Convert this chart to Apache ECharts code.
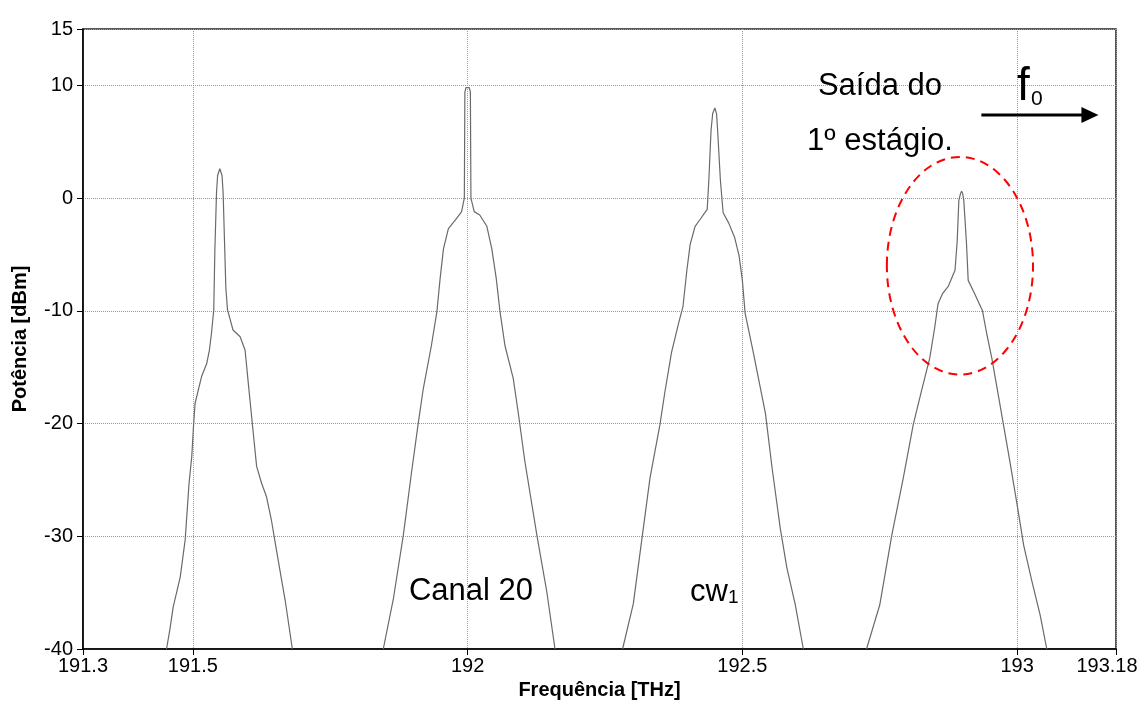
<!DOCTYPE html>
<html><head><meta charset="utf-8">
<script src="https://cdn.jsdelivr.net/npm/echarts@6.0.0/dist/echarts.min.js"></script>
<style>html,body{margin:0;padding:0;background:#fff}#c{width:1141px;height:704px}</style>
</head><body><div id="c"></div><script>
const xTicks = [191.3, 191.5, 192, 192.5, 193, 193.18];
const yTicks = [-40, -30, -20, -10, 0, 10, 15];
const xRange = [191.3, 193.18];
const yRange = [-40, 15];

// [frequency THz, power dBm]
const peak1 = [[191.452,-40],[191.458,-38.3],[191.464,-36.3],[191.477,-33.6],[191.486,-30.3],[191.493,-25.3],[191.498,-22.9],[191.501,-20.3],[191.504,-18.2],[191.510,-17.0],[191.516,-15.8],[191.525,-14.7],[191.530,-13.5],[191.534,-11.9],[191.538,-9.9],[191.540,-4.6],[191.543,0.5],[191.545,2.0],[191.549,2.6],[191.553,2.0],[191.555,0.5],[191.558,-4.6],[191.560,-8.0],[191.563,-9.9],[191.573,-11.7],[191.586,-12.3],[191.595,-13.5],[191.601,-16.5],[191.610,-20.9],[191.616,-23.8],[191.625,-25.3],[191.634,-26.5],[191.643,-28.6],[191.652,-31.2],[191.668,-35.7],[191.681,-40]];
const canal20 = [[191.8465,-40],[191.865,-35.5],[191.883,-29.9],[191.898,-24.3],[191.910,-20.0],[191.919,-17.0],[191.934,-13.1],[191.944,-10.1],[191.950,-7.1],[191.956,-4.5],[191.965,-2.7],[191.980,-1.8],[191.989,-1.2],[191.994,0.0],[191.995,9.4],[191.997,9.8],[192.000,9.9],[192.003,9.8],[192.005,9.4],[192.006,0.0],[192.012,-1.2],[192.022,-1.5],[192.035,-2.5],[192.044,-4.5],[192.052,-7.1],[192.059,-10.1],[192.068,-13.1],[192.083,-16.0],[192.092,-19.0],[192.104,-23.3],[192.126,-29.9],[192.144,-34.9],[192.159,-40]];
const cw1 = [[192.282,-40],[192.3015,-36.0],[192.317,-30.3],[192.332,-24.8],[192.350,-20.1],[192.359,-17.2],[192.371,-13.7],[192.384,-11.1],[192.392,-9.6],[192.399,-6.4],[192.405,-4.1],[192.414,-2.5],[192.423,-1.9],[192.436,-1.0],[192.439,1.6],[192.443,6.0],[192.446,7.5],[192.450,8.0],[192.453,7.5],[192.455,6.0],[192.460,1.6],[192.465,-1.3],[192.475,-2.2],[192.486,-3.5],[192.494,-5.1],[192.500,-7.3],[192.505,-10.2],[192.520,-13.7],[192.533,-16.9],[192.542,-19.1],[192.554,-23.9],[192.569,-29.3],[192.581,-32.8],[192.596,-36.0],[192.611,-40]];
const stage1Out = [[192.726,-40],[192.750,-36.1],[192.772,-29.9],[192.793,-24.8],[192.811,-20.1],[192.826,-17.1],[192.841,-14.2],[192.850,-11.5],[192.856,-9.4],[192.864,-8.5],[192.875,-7.8],[192.887,-6.4],[192.891,-3.8],[192.894,-0.2],[192.897,0.4],[192.899,0.6],[192.901,0.4],[192.903,-0.2],[192.908,-4.1],[192.911,-7.3],[192.923,-8.5],[192.937,-10.0],[192.945,-12.1],[192.954,-14.2],[192.972,-19.2],[192.987,-23.4],[193.000,-27.2],[193.012,-30.8],[193.027,-34.0],[193.042,-37.0],[193.054,-40]];

const FONT = 'Liberation Sans, Arial, sans-serif';
const lineColor = '#6a6a6a';

function mk(name, data) {
  return { name, type: 'line', data, showSymbol: false, symbol: 'none',
    lineStyle: { color: lineColor, width: 1.2 }, animation: false, z: 3 };
}

const chart = echarts.init(document.getElementById('c'), null, { renderer: 'canvas' });
chart.setOption({
  backgroundColor: '#fff',
  animation: false,
  grid: { left: 83, right: 25, top: 29, bottom: 55, show: true, borderColor: '#222', borderWidth: 1.5,
    backgroundColor: 'transparent', outerBoundsMode: 'none', containLabel: false },
  xAxis: {
    type: 'value', min: xRange[0], max: xRange[1],
    name: 'Frequência [THz]', nameLocation: 'middle', nameGap: 31,
    nameTextStyle: { fontFamily: FONT, fontSize: 20, fontWeight: 'bold', color: '#000' },
    axisLine: { show: true, onZero: false, lineStyle: { color: '#000', width: 1.5 } },
    axisTick: { show: true, length: 6, customValues: xTicks, lineStyle: { color: '#000' } },
    axisLabel: { customValues: xTicks, showMinLabel: true, showMaxLabel: true, margin: 7,
      fontFamily: FONT, fontSize: 20, color: '#000',
      formatter: v => (v === xRange[1] ? '{m|' + v + '}' : String(v)),
      rich: { m: { fontFamily: FONT, fontSize: 20, color: '#000', padding: [0, 18, 0, 0] } } },
    splitLine: { show: true, lineStyle: { color: '#999', type: [1, 1], width: 1 } }
  },
  yAxis: {
    type: 'value', min: yRange[0], max: yRange[1],
    name: 'Potência [dBm]', nameLocation: 'middle', nameGap: 53, nameRotate: 90,
    nameTextStyle: { fontFamily: FONT, fontSize: 20, fontWeight: 'bold', color: '#000' },
    axisLine: { show: true, onZero: false, lineStyle: { color: '#000', width: 1.5 } },
    axisTick: { show: true, length: 6, customValues: yTicks, lineStyle: { color: '#000' } },
    axisLabel: { customValues: yTicks, showMinLabel: true, showMaxLabel: true, margin: 10,
      fontFamily: FONT, fontSize: 20, color: '#000' },
    splitLine: { show: true, lineStyle: { color: '#999', type: [1, 1], width: 1 } }
  },
  series: [mk('peak1', peak1), mk('Canal 20', canal20), mk('cw1', cw1), mk('stage1', stage1Out)]
});

// annotations
const c = chart.convertToPixel({ gridIndex: 0 }, [192.896, -6.0]);
const ex = chart.convertToPixel({ gridIndex: 0 }, [192.896 + 0.133, -6.0 + 9.65]);
const a0 = chart.convertToPixel({ gridIndex: 0 }, [192.935, 7.37]);
const a1 = chart.convertToPixel({ gridIndex: 0 }, [193.148, 7.37]);
const txt = (t, x, y, size, align) => ({ type: 'text', x, y, z: 10,
  style: { text: t, fontFamily: FONT, fontSize: size, fill: '#000', align: align || 'center', verticalAlign: 'middle' } });
chart.setOption({
  graphic: [
    { type: 'ellipse', z: 10, shape: { cx: c[0], cy: c[1], rx: Math.abs(ex[0] - c[0]), ry: Math.abs(c[1] - ex[1]) },
      style: { fill: 'none', stroke: '#ff0000', lineWidth: 2, lineDash: [9, 6] } },
    { type: 'line', z: 10, shape: { x1: a0[0], y1: a0[1], x2: a1[0] - 12, y2: a1[1] },
      style: { stroke: '#000', lineWidth: 3 } },
    { type: 'polygon', z: 10, shape: { points: [[a1[0], a1[1]], [a1[0] - 17, a1[1] - 8], [a1[0] - 17, a1[1] + 8]] },
      style: { fill: '#000' } },
    txt('Saída do', 880, 86, 31),
    txt('1º estágio.', 880, 141, 31),
    txt('f', 1017, 87, 46, 'left'),
    txt('0', 1031, 99, 21, 'left'),
    txt('Canal 20', 471, 591, 31),
    txt('cw', 690, 592, 31, 'left'),
    txt('1', 728, 598, 19, 'left')
  ]
});
</script></body></html>
